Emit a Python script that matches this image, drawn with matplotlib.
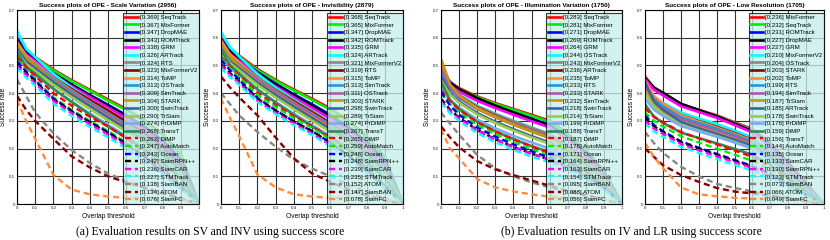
import matplotlib
matplotlib.use("Agg")
import matplotlib.pyplot as plt
import numpy as np

THRESHOLDS = [0.0, 0.05, 0.1, 0.2, 0.3, 0.4, 0.5, 0.6, 0.7, 0.8, 0.9, 1.0]

# ---------------- Scale Variation ----------------
SV_NAMES = ['SeqTrack', 'MixFormer', 'DropMAE', 'ROMTrack', 'GRM', 'ARTrack', 'RTS',
            'MixFormerV2', 'ToMP', 'OSTrack', 'SimTrack', 'STARK', 'SwinTrack', 'TrSiam',
            'PrDiMP', 'TransT', 'DiMP', 'AutoMatch', 'Ocean', 'SiamRPN++', 'SiamCAR',
            'STMTrack', 'SiamBAN', 'ATOM', 'SiamFC']
SV_SCORES = [0.369, 0.367, 0.347, 0.343, 0.338, 0.326, 0.324, 0.323, 0.314, 0.313, 0.309,
             0.304, 0.300, 0.290, 0.274, 0.268, 0.263, 0.247, 0.243, 0.242, 0.236, 0.227,
             0.138, 0.134, 0.076]
SV_CURVES = [
    [0.600, 0.555, 0.530, 0.485, 0.447, 0.412, 0.377, 0.343, 0.302, 0.252, 0.180, 0.0],
    [0.590, 0.550, 0.527, 0.482, 0.444, 0.409, 0.373, 0.339, 0.299, 0.249, 0.178, 0.0],
    [0.595, 0.548, 0.522, 0.472, 0.432, 0.394, 0.358, 0.321, 0.280, 0.230, 0.160, 0.0],
    [0.585, 0.545, 0.520, 0.470, 0.430, 0.391, 0.354, 0.316, 0.274, 0.224, 0.154, 0.0],
    [0.580, 0.540, 0.515, 0.465, 0.425, 0.386, 0.348, 0.310, 0.268, 0.218, 0.150, 0.0],
    [0.625, 0.560, 0.530, 0.470, 0.420, 0.377, 0.337, 0.297, 0.254, 0.204, 0.137, 0.0],
    [0.570, 0.530, 0.505, 0.456, 0.416, 0.377, 0.338, 0.298, 0.256, 0.206, 0.139, 0.0],
    [0.565, 0.528, 0.503, 0.455, 0.414, 0.375, 0.336, 0.297, 0.255, 0.205, 0.138, 0.0],
    [0.585, 0.535, 0.508, 0.455, 0.410, 0.368, 0.328, 0.287, 0.244, 0.195, 0.130, 0.0],
    [0.575, 0.528, 0.502, 0.451, 0.407, 0.366, 0.326, 0.286, 0.243, 0.194, 0.129, 0.0],
    [0.570, 0.522, 0.496, 0.446, 0.402, 0.361, 0.321, 0.281, 0.239, 0.190, 0.126, 0.0],
    [0.580, 0.525, 0.498, 0.444, 0.398, 0.356, 0.315, 0.275, 0.233, 0.185, 0.121, 0.0],
    [0.560, 0.515, 0.490, 0.440, 0.395, 0.353, 0.312, 0.272, 0.230, 0.181, 0.118, 0.0],
    [0.550, 0.505, 0.480, 0.430, 0.385, 0.343, 0.302, 0.262, 0.220, 0.171, 0.110, 0.0],
    [0.535, 0.490, 0.465, 0.415, 0.370, 0.327, 0.286, 0.245, 0.203, 0.156, 0.098, 0.0],
    [0.550, 0.495, 0.470, 0.416, 0.368, 0.323, 0.280, 0.239, 0.196, 0.149, 0.092, 0.0],
    [0.530, 0.495, 0.462, 0.400, 0.355, 0.315, 0.280, 0.238, 0.187, 0.131, 0.070, 0.0],
    [0.520, 0.483, 0.450, 0.385, 0.340, 0.300, 0.264, 0.222, 0.174, 0.121, 0.064, 0.0],
    [0.515, 0.478, 0.445, 0.380, 0.336, 0.296, 0.259, 0.218, 0.170, 0.118, 0.062, 0.0],
    [0.505, 0.472, 0.442, 0.378, 0.334, 0.294, 0.257, 0.216, 0.168, 0.117, 0.061, 0.0],
    [0.500, 0.466, 0.436, 0.372, 0.328, 0.288, 0.251, 0.210, 0.163, 0.113, 0.058, 0.0],
    [0.490, 0.456, 0.427, 0.362, 0.318, 0.278, 0.241, 0.200, 0.154, 0.106, 0.054, 0.0],
    [0.450, 0.390, 0.330, 0.255, 0.195, 0.148, 0.110, 0.083, 0.058, 0.038, 0.018, 0.0],
    [0.390, 0.340, 0.300, 0.235, 0.172, 0.132, 0.100, 0.078, 0.058, 0.040, 0.020, 0.0],
    [0.375, 0.300, 0.235, 0.105, 0.052, 0.035, 0.027, 0.022, 0.020, 0.020, 0.018, 0.0],
]

# ---------------- Invisibility ----------------
INV_NAMES = ['SeqTrack', 'MixFormer', 'DropMAE', 'ROMTrack', 'GRM', 'ARTrack', 'MixFormerV2',
             'RTS', 'ToMP', 'SimTrack', 'OSTrack', 'STARK', 'SwinTrack', 'TrSiam', 'PrDiMP',
             'TransT', 'DiMP', 'AutoMatch', 'Ocean', 'SiamRPN++', 'SiamCAR', 'STMTrack',
             'ATOM', 'SiamBAN', 'SiamFC']
INV_SCORES = [0.368, 0.365, 0.347, 0.342, 0.335, 0.324, 0.321, 0.319, 0.315, 0.313, 0.311,
              0.303, 0.298, 0.289, 0.274, 0.267, 0.265, 0.259, 0.248, 0.248, 0.239, 0.235,
              0.152, 0.147, 0.078]
INV_CURVES = [
    [0.600, 0.560, 0.535, 0.487, 0.448, 0.413, 0.380, 0.345, 0.300, 0.245, 0.170, 0.0],
    [0.585, 0.552, 0.530, 0.483, 0.445, 0.410, 0.376, 0.340, 0.296, 0.242, 0.168, 0.0],
    [0.595, 0.552, 0.527, 0.476, 0.434, 0.396, 0.360, 0.322, 0.278, 0.226, 0.156, 0.0],
    [0.585, 0.548, 0.524, 0.473, 0.431, 0.392, 0.355, 0.316, 0.272, 0.220, 0.151, 0.0],
    [0.580, 0.540, 0.516, 0.466, 0.424, 0.385, 0.347, 0.308, 0.265, 0.214, 0.147, 0.0],
    [0.620, 0.565, 0.532, 0.470, 0.420, 0.377, 0.336, 0.295, 0.251, 0.200, 0.134, 0.0],
    [0.570, 0.530, 0.505, 0.455, 0.413, 0.373, 0.334, 0.294, 0.250, 0.200, 0.134, 0.0],
    [0.575, 0.532, 0.505, 0.453, 0.410, 0.370, 0.331, 0.291, 0.248, 0.198, 0.132, 0.0],
    [0.590, 0.540, 0.510, 0.453, 0.408, 0.366, 0.326, 0.286, 0.243, 0.194, 0.129, 0.0],
    [0.575, 0.530, 0.503, 0.450, 0.405, 0.364, 0.324, 0.284, 0.242, 0.193, 0.128, 0.0],
    [0.570, 0.526, 0.500, 0.447, 0.403, 0.362, 0.322, 0.282, 0.240, 0.191, 0.127, 0.0],
    [0.580, 0.528, 0.498, 0.442, 0.396, 0.354, 0.314, 0.274, 0.232, 0.184, 0.121, 0.0],
    [0.560, 0.515, 0.490, 0.438, 0.393, 0.351, 0.310, 0.270, 0.228, 0.180, 0.117, 0.0],
    [0.555, 0.508, 0.482, 0.430, 0.384, 0.342, 0.301, 0.261, 0.219, 0.171, 0.110, 0.0],
    [0.535, 0.490, 0.465, 0.413, 0.368, 0.326, 0.285, 0.245, 0.204, 0.157, 0.099, 0.0],
    [0.555, 0.500, 0.470, 0.414, 0.366, 0.322, 0.280, 0.238, 0.196, 0.150, 0.093, 0.0],
    [0.530, 0.495, 0.465, 0.402, 0.357, 0.317, 0.281, 0.240, 0.190, 0.133, 0.071, 0.0],
    [0.525, 0.490, 0.458, 0.395, 0.350, 0.310, 0.275, 0.234, 0.185, 0.129, 0.068, 0.0],
    [0.520, 0.482, 0.448, 0.383, 0.338, 0.298, 0.263, 0.222, 0.175, 0.122, 0.064, 0.0],
    [0.505, 0.472, 0.442, 0.380, 0.337, 0.298, 0.263, 0.222, 0.175, 0.122, 0.064, 0.0],
    [0.500, 0.466, 0.436, 0.373, 0.329, 0.290, 0.254, 0.213, 0.167, 0.116, 0.060, 0.0],
    [0.490, 0.458, 0.430, 0.368, 0.324, 0.285, 0.249, 0.208, 0.163, 0.113, 0.058, 0.0],
    [0.400, 0.360, 0.320, 0.260, 0.207, 0.160, 0.128, 0.100, 0.070, 0.045, 0.020, 0.0],
    [0.460, 0.420, 0.385, 0.320, 0.240, 0.165, 0.110, 0.080, 0.052, 0.032, 0.013, 0.0],
    [0.380, 0.310, 0.245, 0.107, 0.060, 0.035, 0.027, 0.022, 0.021, 0.020, 0.018, 0.0],
]

# ---------------- Illumination Variation ----------------
IV_NAMES = ['SeqTrack', 'MixFormer', 'DropMAE', 'ROMTrack', 'GRM', 'OSTrack', 'MixFormerV2',
            'ARTrack', 'ToMP', 'RTS', 'STARK', 'SimTrack', 'SwinTrack', 'TrSiam', 'PrDiMP',
            'TransT', 'DiMP', 'AutoMatch', 'Ocean', 'SiamRPN++', 'SiamCAR', 'STMTrack',
            'SiamBAN', 'ATOM', 'SiamFC']
IV_SCORES = [0.283, 0.281, 0.271, 0.269, 0.264, 0.244, 0.243, 0.236, 0.235, 0.233, 0.233,
             0.232, 0.218, 0.214, 0.199, 0.188, 0.187, 0.178, 0.171, 0.164, 0.163, 0.154,
             0.095, 0.088, 0.056]
IV_CURVES = [
    [0.480, 0.440, 0.418, 0.388, 0.364, 0.343, 0.322, 0.300, 0.255, 0.195, 0.120, 0.0],
    [0.475, 0.437, 0.415, 0.385, 0.361, 0.340, 0.318, 0.296, 0.252, 0.192, 0.118, 0.0],
    [0.490, 0.440, 0.413, 0.380, 0.354, 0.331, 0.308, 0.285, 0.242, 0.184, 0.112, 0.0],
    [0.470, 0.435, 0.415, 0.382, 0.355, 0.330, 0.306, 0.282, 0.240, 0.182, 0.110, 0.0],
    [0.470, 0.428, 0.405, 0.372, 0.346, 0.322, 0.299, 0.276, 0.234, 0.178, 0.107, 0.0],
    [0.500, 0.430, 0.395, 0.355, 0.326, 0.300, 0.276, 0.253, 0.214, 0.162, 0.097, 0.0],
    [0.460, 0.415, 0.390, 0.352, 0.324, 0.299, 0.275, 0.252, 0.213, 0.161, 0.096, 0.0],
    [0.520, 0.430, 0.392, 0.348, 0.318, 0.291, 0.266, 0.243, 0.205, 0.155, 0.092, 0.0],
    [0.500, 0.425, 0.388, 0.346, 0.316, 0.290, 0.265, 0.242, 0.204, 0.154, 0.091, 0.0],
    [0.480, 0.415, 0.383, 0.343, 0.314, 0.288, 0.263, 0.240, 0.202, 0.153, 0.090, 0.0],
    [0.490, 0.420, 0.385, 0.343, 0.313, 0.287, 0.262, 0.239, 0.202, 0.153, 0.090, 0.0],
    [0.520, 0.432, 0.392, 0.345, 0.313, 0.286, 0.261, 0.238, 0.200, 0.151, 0.089, 0.0],
    [0.460, 0.400, 0.370, 0.328, 0.297, 0.270, 0.245, 0.222, 0.187, 0.140, 0.082, 0.0],
    [0.445, 0.395, 0.365, 0.323, 0.292, 0.265, 0.240, 0.217, 0.183, 0.137, 0.080, 0.0],
    [0.420, 0.375, 0.348, 0.305, 0.273, 0.246, 0.222, 0.200, 0.168, 0.126, 0.073, 0.0],
    [0.440, 0.375, 0.343, 0.296, 0.262, 0.234, 0.209, 0.187, 0.157, 0.118, 0.068, 0.0],
    [0.410, 0.370, 0.340, 0.295, 0.262, 0.234, 0.208, 0.183, 0.152, 0.114, 0.066, 0.0],
    [0.400, 0.360, 0.330, 0.285, 0.252, 0.224, 0.198, 0.174, 0.144, 0.108, 0.062, 0.0],
    [0.405, 0.355, 0.322, 0.276, 0.243, 0.215, 0.190, 0.167, 0.138, 0.103, 0.059, 0.0],
    [0.380, 0.340, 0.312, 0.267, 0.234, 0.206, 0.182, 0.160, 0.132, 0.099, 0.056, 0.0],
    [0.370, 0.335, 0.308, 0.265, 0.232, 0.205, 0.181, 0.159, 0.131, 0.098, 0.056, 0.0],
    [0.365, 0.327, 0.300, 0.256, 0.222, 0.195, 0.171, 0.150, 0.123, 0.092, 0.052, 0.0],
    [0.330, 0.290, 0.250, 0.177, 0.129, 0.100, 0.078, 0.060, 0.045, 0.032, 0.018, 0.0],
    [0.280, 0.240, 0.205, 0.155, 0.125, 0.104, 0.085, 0.066, 0.048, 0.032, 0.016, 0.0],
    [0.270, 0.200, 0.165, 0.090, 0.060, 0.045, 0.035, 0.026, 0.021, 0.020, 0.018, 0.0],
]

# ---------------- Low Resolution ----------------
LR_NAMES = ['MixFormer', 'SeqTrack', 'ROMTrack', 'DropMAE', 'GRM', 'MixFormerV2', 'OSTrack',
            'STARK', 'ToMP', 'RTS', 'SimTrack', 'TrSiam', 'ARTrack', 'SwinTrack', 'PrDiMP',
            'DiMP', 'TransT', 'AutoMatch', 'Ocean', 'SiamCAR', 'SiamRPN++', 'STMTrack',
            'SiamBAN', 'ATOM', 'SiamFC']
LR_SCORES = [0.236, 0.232, 0.231, 0.227, 0.227, 0.210, 0.204, 0.203, 0.202, 0.199, 0.194,
             0.187, 0.185, 0.178, 0.178, 0.159, 0.156, 0.144, 0.135, 0.133, 0.130, 0.123,
             0.073, 0.066, 0.049]
LR_CURVES = [
    [0.460, 0.420, 0.398, 0.360, 0.340, 0.320, 0.295, 0.270, 0.220, 0.150, 0.075, 0.0],
    [0.455, 0.417, 0.396, 0.358, 0.337, 0.317, 0.292, 0.266, 0.215, 0.145, 0.072, 0.0],
    [0.450, 0.418, 0.400, 0.360, 0.338, 0.316, 0.290, 0.263, 0.212, 0.143, 0.070, 0.0],
    [0.455, 0.420, 0.402, 0.362, 0.339, 0.316, 0.289, 0.261, 0.209, 0.140, 0.068, 0.0],
    [0.450, 0.412, 0.392, 0.353, 0.332, 0.311, 0.285, 0.258, 0.207, 0.139, 0.068, 0.0],
    [0.420, 0.385, 0.365, 0.330, 0.309, 0.289, 0.265, 0.240, 0.192, 0.128, 0.062, 0.0],
    [0.440, 0.385, 0.360, 0.322, 0.300, 0.280, 0.257, 0.232, 0.186, 0.124, 0.060, 0.0],
    [0.430, 0.382, 0.358, 0.320, 0.298, 0.278, 0.255, 0.230, 0.185, 0.123, 0.060, 0.0],
    [0.445, 0.390, 0.362, 0.320, 0.297, 0.276, 0.253, 0.229, 0.184, 0.122, 0.059, 0.0],
    [0.430, 0.378, 0.352, 0.313, 0.292, 0.272, 0.249, 0.225, 0.181, 0.120, 0.058, 0.0],
    [0.420, 0.370, 0.345, 0.306, 0.285, 0.265, 0.243, 0.220, 0.176, 0.117, 0.056, 0.0],
    [0.410, 0.360, 0.335, 0.297, 0.276, 0.256, 0.235, 0.212, 0.170, 0.113, 0.054, 0.0],
    [0.440, 0.370, 0.340, 0.296, 0.273, 0.253, 0.232, 0.209, 0.167, 0.111, 0.053, 0.0],
    [0.400, 0.350, 0.325, 0.286, 0.265, 0.245, 0.224, 0.201, 0.160, 0.106, 0.050, 0.0],
    [0.380, 0.340, 0.318, 0.282, 0.262, 0.243, 0.222, 0.200, 0.160, 0.106, 0.050, 0.0],
    [0.360, 0.315, 0.293, 0.258, 0.238, 0.219, 0.199, 0.178, 0.142, 0.094, 0.044, 0.0],
    [0.345, 0.315, 0.295, 0.260, 0.237, 0.215, 0.193, 0.170, 0.135, 0.090, 0.042, 0.0],
    [0.330, 0.300, 0.280, 0.245, 0.222, 0.200, 0.178, 0.156, 0.124, 0.082, 0.038, 0.0],
    [0.320, 0.285, 0.263, 0.226, 0.203, 0.181, 0.159, 0.137, 0.108, 0.071, 0.033, 0.0],
    [0.310, 0.280, 0.260, 0.223, 0.200, 0.178, 0.156, 0.134, 0.106, 0.070, 0.032, 0.0],
    [0.300, 0.272, 0.253, 0.217, 0.194, 0.172, 0.151, 0.130, 0.103, 0.068, 0.031, 0.0],
    [0.290, 0.262, 0.243, 0.207, 0.184, 0.162, 0.141, 0.120, 0.095, 0.062, 0.028, 0.0],
    [0.260, 0.220, 0.185, 0.135, 0.100, 0.073, 0.058, 0.045, 0.033, 0.022, 0.011, 0.0],
    [0.200, 0.170, 0.140, 0.105, 0.080, 0.058, 0.045, 0.038, 0.030, 0.020, 0.010, 0.0],
    [0.220, 0.170, 0.130, 0.060, 0.035, 0.028, 0.022, 0.020, 0.019, 0.018, 0.016, 0.0],
]

PANELS = [
    ('Success plots of OPE - Scale Variation (2956)', SV_NAMES, SV_SCORES, SV_CURVES),
    ('Success plots of OPE - Invisibility (2879)', INV_NAMES, INV_SCORES, INV_CURVES),
    ('Success plots of OPE - Illumination Variation (1750)', IV_NAMES, IV_SCORES, IV_CURVES),
    ('Success plots of OPE - Low Resolution (1705)', LR_NAMES, LR_SCORES, LR_CURVES),
]

# colour by rank: 16 solid lines, then 9 dashed ones
SOLID_COLORS = ['#ff0000', '#00ee00', '#0000ff', '#000000', '#ff00ff', '#00ffff', '#888888',
                '#880000', '#ff8c3c', '#1e9bd7', '#a55cb4', '#c8960a', '#3c64a0', '#9acb50',
                '#78acf0', '#2e8b57']
DASH_COLORS = ['#ff0000', '#00ee00', '#0000ff', '#000000', '#ff00ff', '#00ffff', '#888888',
               '#880000', '#ff8c3c']

# axes rectangles in pixels (left, right) of the 830x240 figure
AX_PIX = [(17, 199), (221, 403), (441, 622), (645, 824)]

plt.rcParams['font.family'] = ['Liberation Sans', 'DejaVu Sans']

fig = plt.figure(figsize=(8.3, 2.4), dpi=100)

for (title, names, scores, curves), (x0, x1) in zip(PANELS, AX_PIX):
    ax = fig.add_axes([x0 / 830, 36 / 240, (x1 - x0) / 830, 194 / 240])
    for i, (name, score, curve) in enumerate(zip(names, scores, curves)):
        label = f'[{score:.3f}] {name}'
        if i < len(SOLID_COLORS):
            ax.plot(THRESHOLDS, curve, '-', color=SOLID_COLORS[i], linewidth=1.9, label=label)
        else:
            ax.plot(THRESHOLDS, curve, '--', color=DASH_COLORS[i - len(SOLID_COLORS)],
                    linewidth=1.7, dashes=(2.6, 1.6), label=label)

    ax.set_xlim(0, 1)
    ax.set_ylim(0, 0.7)
    ax.set_xticks(np.arange(0, 1.01, 0.1))
    ax.set_xticklabels(['0', '0.1', '0.2', '0.3', '0.4', '0.5', '0.6', '0.7', '0.8', '0.9', '1'])
    ax.set_yticks(np.arange(0, 0.71, 0.1))
    ax.set_yticklabels(['0', '0.1', '0.2', '0.3', '0.4', '0.5', '0.6', '0.7'])
    ax.tick_params(labelsize=3.2, length=1.5, width=0.5, direction='in', pad=1.5,
                   colors='#222222')
    ax.grid(True, color='#333333', linewidth=0.8)
    for sp in ax.spines.values():
        sp.set_linewidth(0.8)

    ax.set_title(title, fontsize=4.6, fontweight='bold', pad=2)
    ax.set_xlabel('Overlap threshold', fontsize=4.8, labelpad=2)
    ax.set_ylabel('Success rate', fontsize=4.8, labelpad=1)

    leg = ax.legend(loc='upper right', bbox_to_anchor=(1.0, 0.985), borderaxespad=0,
                    fontsize=4.4, labelspacing=0.38, handlelength=2.1, handletextpad=0.3,
                    borderpad=0.3, fancybox=False, framealpha=0.78)
    leg.get_frame().set_facecolor('#c4efea')
    leg.get_frame().set_edgecolor('#000000')
    leg.get_frame().set_linewidth(0.8)

fig.text(210 / 830, 1 - 232 / 240, '(a) Evaluation results on SV and INV using success score',
         ha='center', va='center', fontsize=8.4, family=['Liberation Serif', 'DejaVu Serif'])
fig.text(631 / 830, 1 - 232 / 240, '(b) Evaluation results on IV and LR using success score',
         ha='center', va='center', fontsize=8.4, family=['Liberation Serif', 'DejaVu Serif'])

fig.savefig('out.png', dpi=100)
plt.close(fig)
